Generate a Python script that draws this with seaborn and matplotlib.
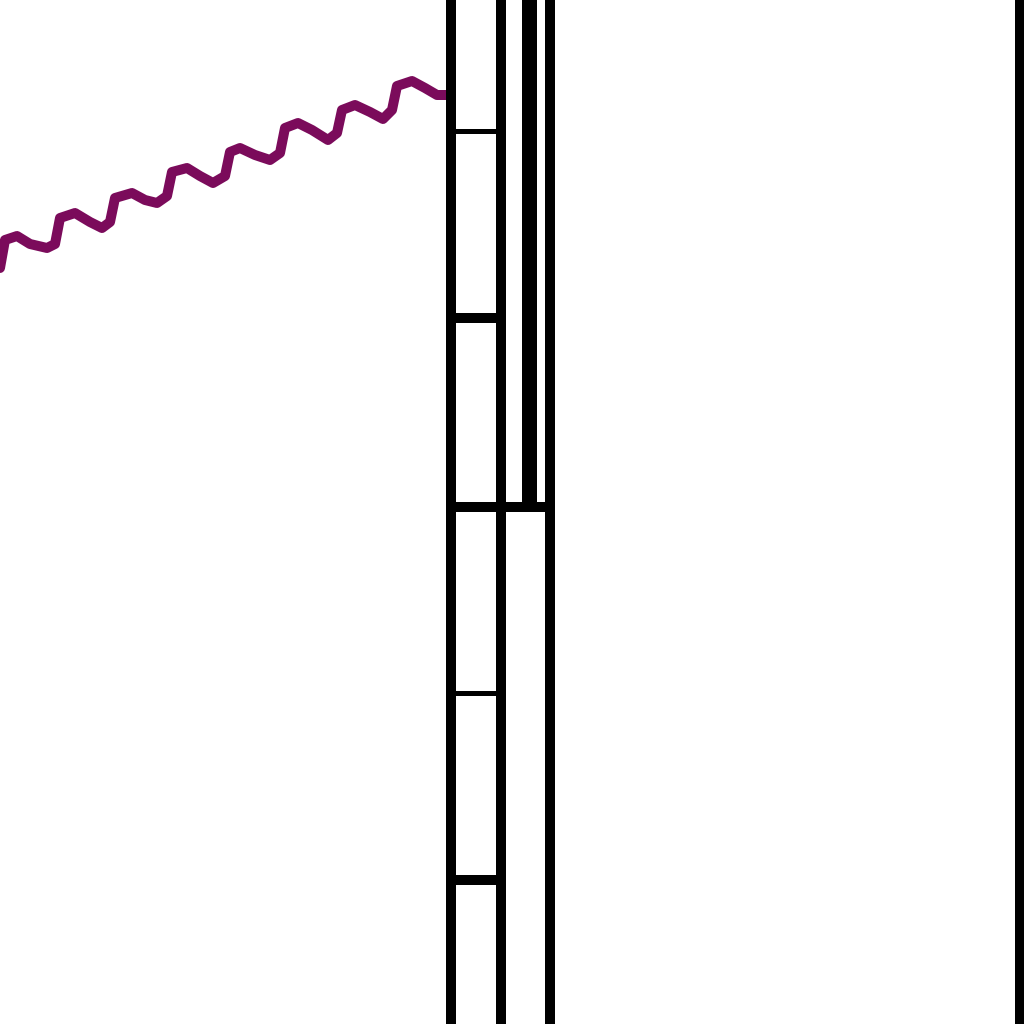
import matplotlib
matplotlib.use('Agg')
import matplotlib.pyplot as plt
import seaborn as sns

sns.set_style('white')

# purple trace (pixel units, y measured downwards)
trace_x = [0, 5, 17, 30, 47, 55, 60, 75, 90, 102, 110, 115, 132, 145, 157,
           167, 172, 187, 200, 213, 225, 230, 240, 255, 270, 280, 285, 298,
           312, 328, 337, 342, 355, 370, 383, 392, 397, 412, 425, 437, 446]
trace_y = [268, 240, 236, 244, 248, 244, 218, 213, 222, 228, 222, 198, 193,
           200, 203, 196, 172, 168, 176, 183, 176, 152, 148, 155, 160, 153,
           128, 123, 130, 140, 133, 110, 105, 112, 119, 110, 86, 81, 88, 95,
           95]

# vertical rails and the ladder rungs between the first two
rail_x = [451, 501, 550, 1020]
rung_y = [131, 318, 507, 693, 880]
rung_major = [False, True, True, False, True]
bar_x = 528.5
bar_top = 0
bar_bottom = 507

PX = 72 / 100  # points per pixel at dpi 100

fig = plt.figure(figsize=(10.24, 10.24), dpi=100)
ax = fig.add_axes([0, 0, 1, 1])
ax.set_xlim(0, 1024)
ax.set_ylim(1024, 0)
ax.axis('off')

sns.lineplot(x=trace_x, y=trace_y, ax=ax, color='#7b0b5b', lw=10 * PX,
             sort=False, estimator=None)

ax.vlines(rail_x, 0, 1024, colors='black', linewidth=10 * PX,
          antialiased=False)
for y, major in zip(rung_y, rung_major):
    x_end = 550 if y == bar_bottom else 501
    ax.hlines(y, 451, x_end, colors='black',
              linewidth=(10 if major else 5) * PX, antialiased=False)
ax.vlines(bar_x, bar_top, bar_bottom, colors='black', linewidth=15 * PX,
          antialiased=False)

plt.savefig('out.png', dpi=100)
plt.close()
